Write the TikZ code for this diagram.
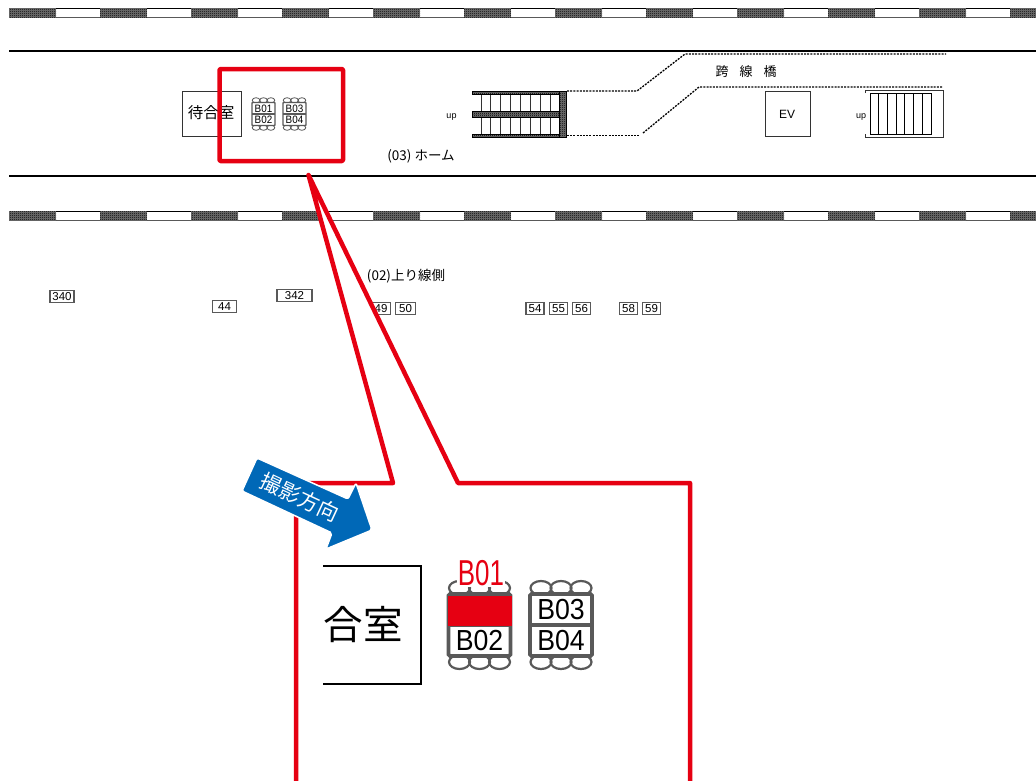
\documentclass[tikz,border=0pt]{standalone}
\usepackage{fontspec}
\usetikzlibrary{patterns}
\setmainfont{Liberation Sans}
\newfontfamily\jpfont{Noto Sans CJK JP}
\definecolor{calloutred}{HTML}{E60012}
\definecolor{arrowblue}{HTML}{0068B7}
\definecolor{signgray}{HTML}{595959}

\pgfdeclarepatternformonly{railgrain}{\pgfqpoint{0pt}{0pt}}{\pgfqpoint{2pt}{2pt}}{\pgfqpoint{2pt}{2pt}}{
  \pgfpathrectangle{\pgfqpoint{0pt}{0pt}}{\pgfqpoint{1pt}{1pt}}
  \pgfpathrectangle{\pgfqpoint{1pt}{1pt}}{\pgfqpoint{1pt}{1pt}}
  \pgfusepath{fill}
}

% name, x, y, scale, upper label, lower label
\newcommand{\signpair}[6]{
\begin{scope}[shift={(#2,#3)}, scale=#4]
\foreach \dx in {-20,0,20} {
  \draw[signgray, line width=#4*2.2pt] (\dx,-37) ellipse (10.5 and 7);
  \draw[signgray, line width=#4*2.2pt] (\dx,37) ellipse (10.5 and 7);
}
\draw[signgray, fill=white, line width=#4*3.6pt, rounded corners=#4*1.5pt] (-31,-31) rectangle (31,31);
\draw[signgray, line width=#4*3.6pt] (-31,0) -- (31,0);
\node[signlabel, transform shape] (#1a) at (0,-15) {#5};
\node[signlabel, transform shape] (#1b) at (0,16) {#6};
\end{scope}
}

\begin{document}
\begin{tikzpicture}[x=1pt, y=-1pt,
    signlabel/.style={inner sep=0pt, font=\fontsize{29}{29}\selectfont, xscale=0.92},
    numbox/.style={draw=signgray, line width=1.2pt, inner sep=0pt, minimum height=12.5pt, font=\fontsize{11.5}{12}\selectfont},
    jptext/.style={inner sep=0pt, font=\jpfont\fontsize{13.5}{15}\selectfont},
    darkbar/.style={fill=black!55, postaction={pattern=railgrain, pattern color=black}, draw=black, line width=0.6pt},
    bridgeline/.style={black, line width=1.3pt, dash pattern=on 2pt off 1.2pt},
    redline/.style={calloutred, line width=4.5pt, line join=round}]
\useasboundingbox (0,0) rectangle (1036,780);
\fill[white] (0,0) rectangle (1036,780);

% rails
\foreach \ry in {8,211} {
  \draw[signgray, line width=1pt] (9,\ry) rectangle (1040,\ry+9.5);
  \draw[black, line width=1pt] (9,\ry) -- (1036,\ry);
  \foreach \k in {0,...,11} {
    \fill[black!55] (9+91*\k,\ry) rectangle (56+91*\k,\ry+9.5);
    \fill[pattern=railgrain, pattern color=black] (9+91*\k,\ry) rectangle (56+91*\k,\ry+9.5);
  }
}

% platform edges
\draw[black, line width=1.3pt] (9,51) -- (1036,51);
\draw[black, line width=1.3pt] (9,176) -- (1036,176);

% waiting room
\draw[black!80, line width=1pt] (182,91) rectangle (241,136);
\node[inner sep=0pt, font=\jpfont\fontsize{15.5}{16}\selectfont] (waitsmall) at (211,113) {待合室};
\signpair{smallA}{263.5}{114}{0.37}{B01}{B02}
\signpair{smallB}{294.5}{114}{0.37}{B03}{B04}

% left stairs
\foreach \k in {0,...,8} {
  \draw[black!80, line width=0.9pt] (481+9.9*\k,92) -- (481+9.9*\k,136);
}
\draw[darkbar] (472,91) rectangle (566,94.5);
\draw[darkbar] (472,111) rectangle (566,117.5);
\draw[darkbar] (472,134) rectangle (566,137);
\draw[darkbar] (559.5,91) rectangle (566,137);
\node[inner sep=0pt, font=\fontsize{9}{9}\selectfont] (upleft) at (451.5,117) {up};

% bridge
\draw[bridgeline] (567,91) -- (637,91) -- (685,54) -- (946,54);
\draw[bridgeline] (567,135.5) -- (640,135.5);
\draw[bridgeline] (643,133) -- (699,87) -- (943,87);
\node[inner sep=0pt, font=\jpfont\fontsize{13}{15}\selectfont] (bridgename) at (746,72) {跨\hspace{11pt}線\hspace{11pt}橋};

% elevator
\draw[black!80, line width=1pt] (765,91) rectangle (810,136.5);
\node[inner sep=0pt, font=\fontsize{12}{12}\selectfont] (evlabel) at (787,114) {EV};

% right stairs
\draw[black!80, line width=1pt] (865,93) -- (865,90.7) -- (943,90.7) -- (943,137) -- (865,137) -- (865,134);
\draw[black, line width=1pt] (870,93) rectangle (931,134);
\foreach \k in {1,...,6} {
  \draw[black, line width=1pt] (870+8.7*\k,93) -- (870+8.7*\k,134);
}
\node[inner sep=0pt, fill=white, font=\fontsize{9}{9}\selectfont] (upright) at (861,117) {up};

% labels
\node[jptext] (homename) at (421,156) {(03) ホーム};
\node[jptext] (sidename) at (406,276.5) {(02)上り線側};

% number boxes
\node[numbox, minimum width=24pt] (n340) at (62,296.5) {340};
\node[numbox, minimum width=24pt] (n44) at (224.5,306.5) {44};
\node[numbox, minimum width=35pt] (n342) at (294.5,295.5) {342};
\node[numbox, minimum width=19pt] (n49) at (381,308.5) {49};
\node[numbox, minimum width=20pt] (n50) at (405.5,308.5) {50};
\node[numbox, minimum width=18pt] (n54) at (535,308.5) {54};
\node[numbox, minimum width=18pt] (n55) at (558.5,308.5) {55};
\node[numbox, minimum width=18pt] (n56) at (581.5,308.5) {56};
\node[numbox, minimum width=18pt] (n58) at (628.5,308.5) {58};
\node[numbox, minimum width=18pt] (n59) at (651.5,308.5) {59};

% red frame and callout
\draw[redline, rounded corners=1pt] (219.5,69) rectangle (343,161);
\draw[redline, fill=white] (296,790) -- (296,483) -- (393,483) -- (308.5,175) -- (458,483) -- (690,483) -- (690,790);

% zoomed room
\draw[black, line width=2pt] (323,566) -- (420.5,566) -- (420.5,683.5) -- (323,683.5);
\node[inner sep=0pt, font=\jpfont\fontsize{39.5}{41}\selectfont] (waitlarge) at (363,624) {合室};
\signpair{largeA}{479.5}{625}{1}{B01}{B02}
\signpair{largeB}{561}{625}{1}{B03}{B04}
\fill[calloutred] (447.5,596) rectangle (512,626);
\node[inner sep=1pt, fill=white, text=calloutred, font=\fontsize{36}{36}\selectfont, xscale=0.72] (redname) at (481,573) {B01};

% direction arrow
\draw[fill=arrowblue, draw=white, line width=1.5pt, line join=round, rounded corners=2pt] (257,458) -- (348,499) -- (356,483) -- (372,530) -- (326,549) -- (332,533) -- (242,491) -- cycle;
\node[inner sep=0pt, text=white, rotate=-25, font=\jpfont\fontsize{21}{22}\selectfont] (shotdir) at (300,497) {撮影方向};
\end{tikzpicture}
\end{document}
